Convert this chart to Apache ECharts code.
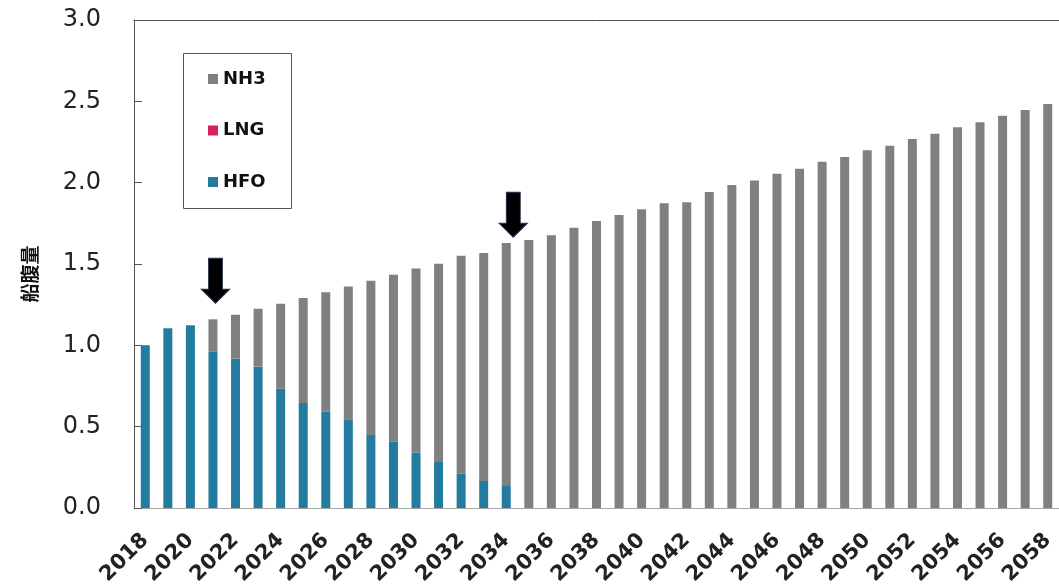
<!DOCTYPE html>
<html>
<head>
<meta charset="utf-8">
<script src="https://cdn.jsdelivr.net/npm/echarts@6/dist/echarts.min.js"></script>
<style>
  html, body { margin: 0; padding: 0; background: #ffffff; }
  #chart { width: 1059px; height: 588px; }
</style>
</head>
<body>
<div id="chart"></div>
<script>
// Fleet capacity by fuel type, 2018 = 1.0
const years = ['2018','2019','2020','2021','2022','2023','2024','2025','2026','2027',
  '2028','2029','2030','2031','2032','2033','2034','2035','2036','2037',
  '2038','2039','2040','2041','2042','2043','2044','2045','2046','2047',
  '2048','2049','2050','2051','2052','2053','2054','2055','2056','2057','2058'];

const hfo = [1.000, 1.105, 1.123, 0.960, 0.918, 0.869, 0.733, 0.645, 0.592, 0.545,
  0.449, 0.408, 0.342, 0.283, 0.211, 0.166, 0.135, 0, 0, 0,
  0, 0, 0, 0, 0, 0, 0, 0, 0, 0,
  0, 0, 0, 0, 0, 0, 0, 0, 0, 0, 0];

const lng = [0, 0, 0, 0, 0, 0, 0, 0, 0, 0,
  0, 0, 0, 0, 0, 0, 0, 0, 0, 0,
  0, 0, 0, 0, 0, 0, 0, 0, 0, 0,
  0, 0, 0, 0, 0, 0, 0, 0, 0, 0, 0];

const nh3 = [0, 0, 0, 0.200, 0.270, 0.356, 0.523, 0.646, 0.734, 0.816,
  0.948, 1.026, 1.131, 1.219, 1.340, 1.402, 1.494, 1.647, 1.676, 1.723,
  1.764, 1.801, 1.836, 1.873, 1.879, 1.943, 1.986, 2.014, 2.055, 2.086,
  2.129, 2.158, 2.199, 2.227, 2.268, 2.301, 2.340, 2.371, 2.412, 2.447, 2.484];

const yTicks = { min: 0, max: 3, interval: 0.5 };

const COLORS = { NH3: '#808080', LNG: '#d6215f', HFO: '#237ca0' };
const LATIN = '"DejaVu Sans", Verdana, sans-serif';

// Downward arrow drawn with its tip at the symbol's lower edge
const ARROW = 'path://M7,0 L21,0 L21,31 L28,31 L14,45 L0,31 L7,31 Z';

const chart = echarts.init(document.getElementById('chart'), null, { renderer: 'canvas' });

const barBase = { type: 'bar', stack: 'fleet', barWidth: 9, xAxisIndex: 0, silent: true };

chart.setOption({
  animation: false,
  backgroundColor: '#ffffff',
  grid: { left: 134, top: 20, width: 934, height: 488, containLabel: false },
  legend: {
    orient: 'vertical',
    left: 203,
    top: 65,
    itemWidth: 10,
    itemHeight: 10,
    itemGap: 33.5,
    icon: 'rect',
    selectedMode: false,
    data: ['NH3', 'LNG', 'HFO'],
    textStyle: { fontFamily: LATIN, fontWeight: 'bold', fontSize: 18, color: '#111' }
  },
  xAxis: [
    {
      type: 'category',
      data: years,
      position: 'bottom',
      axisLine: { lineStyle: { color: '#a6a6a6', width: 1 } },
      axisTick: { show: false },
      axisLabel: {
        interval: 1,
        rotate: 45,
        margin: 29,
        fontFamily: LATIN,
        fontWeight: 'bold',
        fontSize: 21,
        color: '#222'
      },
      splitLine: { show: false }
    },
    {
      type: 'category',
      data: years,
      position: 'top',
      axisLine: { lineStyle: { color: '#555', width: 1 } },
      axisTick: { show: false },
      axisLabel: { show: false },
      splitLine: { show: false }
    }
  ],
  yAxis: {
    type: 'value',
    min: yTicks.min,
    max: yTicks.max,
    interval: yTicks.interval,
    axisLine: { show: true, lineStyle: { color: '#555', width: 1 } },
    axisTick: { show: true, inside: true, length: 8, lineStyle: { color: '#555' } },
    axisLabel: {
      margin: 33,
      fontFamily: LATIN,
      fontSize: 24,
      color: '#222',
      formatter: v => v.toFixed(1)
    },
    splitLine: { show: false }
  },
  series: [
    Object.assign({}, barBase, { name: 'HFO', data: hfo, itemStyle: { color: COLORS.HFO } }),
    Object.assign({}, barBase, { name: 'LNG', data: lng, itemStyle: { color: COLORS.LNG } }),
    Object.assign({}, barBase, {
      name: 'NH3',
      data: nh3,
      itemStyle: { color: COLORS.NH3 },
      markPoint: {
        silent: true,
        symbol: ARROW,
        symbolSize: [28, 45],
        itemStyle: { color: '#000000', borderColor: '#27314d', borderWidth: 1 },
        label: { show: false },
        data: [
          { coord: ['2021', 1.258], symbolOffset: [2.5, -22.5] },
          { coord: ['2034', 1.664], symbolOffset: [7, -22.5] }
        ]
      }
    })
  ],
  graphic: [
    {
      type: 'rect',
      silent: true,
      shape: { x: 183.5, y: 53.5, width: 108, height: 155 },
      style: { fill: 'none', stroke: '#555', lineWidth: 1 }
    },
    {
      type: 'text',
      silent: true,
      x: 30,
      y: 274,
      rotation: Math.PI / 2,
      style: {
        text: '船腹量',
        fontFamily: '"Noto Sans CJK JP", sans-serif',
        fontWeight: 'bold',
        fontSize: 19,
        fill: '#111',
        align: 'center',
        verticalAlign: 'middle'
      }
    }
  ]
});
</script>
</body>
</html>
